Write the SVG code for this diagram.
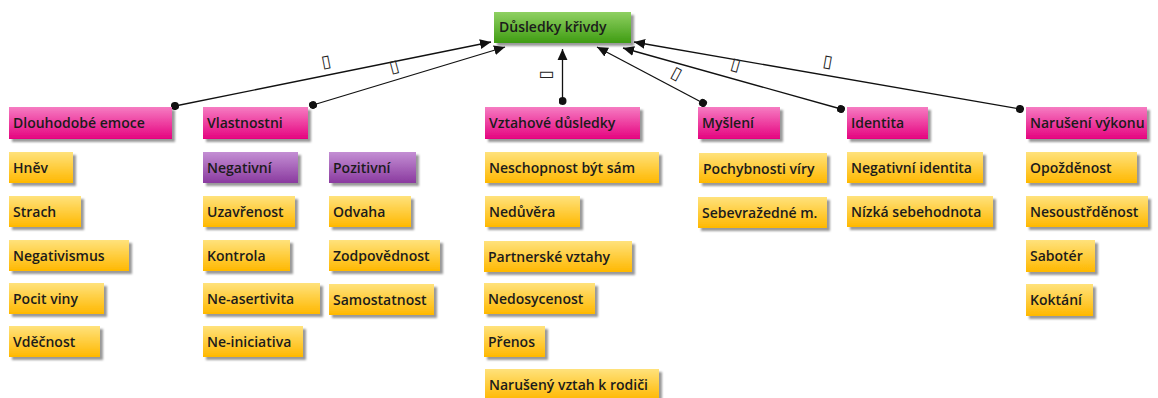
<svg xmlns="http://www.w3.org/2000/svg" width="1158" height="398" viewBox="0 0 1158 398">
  <defs>
    <linearGradient id="gGreen" x1="0" y1="0" x2="0" y2="1">
      <stop offset="0" stop-color="#8fd062"/>
      <stop offset="1" stop-color="#3f9c12"/>
    </linearGradient>
    <linearGradient id="gPink" x1="0" y1="0" x2="0" y2="1">
      <stop offset="0" stop-color="#f67cc2"/>
      <stop offset="1" stop-color="#e5037f"/>
    </linearGradient>
    <linearGradient id="gPurple" x1="0" y1="0" x2="0" y2="1">
      <stop offset="0" stop-color="#c48fd4"/>
      <stop offset="1" stop-color="#8a3a9f"/>
    </linearGradient>
    <linearGradient id="gYellow" x1="0" y1="0" x2="0" y2="1">
      <stop offset="0" stop-color="#ffe27c"/>
      <stop offset="1" stop-color="#ffb800"/>
    </linearGradient>
    <filter id="shadow" x="-10%" y="-20%" width="130%" height="160%">
      <feDropShadow dx="3" dy="3" stdDeviation="1.3" flood-color="#000" flood-opacity="0.4"/>
    </filter>
    <marker id="arrow" viewBox="0 0 10 10" refX="10" refY="5" markerWidth="11" markerHeight="11" markerUnits="userSpaceOnUse" orient="auto">
      <path d="M0,0.5 L10,5 L0,9.5 Z" fill="#111"/>
    </marker>
    <marker id="dot" viewBox="0 0 10 10" refX="5" refY="5" markerWidth="8" markerHeight="8" markerUnits="userSpaceOnUse" orient="auto">
      <circle cx="5" cy="5" r="5" fill="#111"/>
    </marker>
  </defs>
  <style>
    .box { filter: url(#shadow); }
    .green { fill: url(#gGreen); }
    .pink { fill: url(#gPink); }
    .purple { fill: url(#gPurple); }
    .yellow { fill: url(#gYellow); }
    text { font-family: "Open Sans", "Noto Sans", "DejaVu Sans", sans-serif; font-weight: 600; font-size: 14px; fill: #1b1b1b; }
    .edge { stroke: #111; stroke-width: 1.3; fill: none; marker-start: url(#dot); marker-end: url(#arrow); }
    .lbl { font-family: "DejaVu Sans", sans-serif; font-weight: 400; font-size: 17px; fill: #222; text-anchor: middle; }
  </style>

  <!-- connectors: each category points at the root topic -->
  <g id="connectors">
    <line class="edge" x1="175" y1="106" x2="491" y2="42"/>
    <line class="edge" x1="313" y1="105" x2="505" y2="47"/>
    <line class="edge" x1="562.5" y1="101" x2="562.5" y2="49"/>
    <line class="edge" x1="703" y1="103" x2="597" y2="47"/>
    <line class="edge" x1="841" y1="109" x2="623" y2="48"/>
    <line class="edge" x1="1020" y1="109" x2="634" y2="42"/>
    <text class="lbl" transform="translate(326,61) rotate(-11)" y="6">▯</text>
    <text class="lbl" transform="translate(394,66) rotate(-15)" y="6">▯</text>
    <text class="lbl" transform="translate(545,75) rotate(-90)" y="6">▯</text>
    <text class="lbl" transform="translate(677,73) rotate(28)" y="6">▯</text>
    <text class="lbl" transform="translate(736,64) rotate(16)" y="6">▯</text>
    <text class="lbl" transform="translate(828,61) rotate(10)" y="6">▯</text>
  </g>

  <!-- root -->
  <g id="root">
    <rect class="box green" x="494" y="12" width="137" height="31"/>
    <text x="499" y="32">Důsledky křivdy</text>
  </g>

  <!-- categories -->
  <g id="cat-emoce">
    <rect class="box pink" x="9" y="107" width="163" height="32"/>
    <text x="13" y="128">Dlouhodobé emoce</text>
  </g>
  <g id="cat-vlastnosti">
    <rect class="box pink" x="203" y="107" width="105" height="32"/>
    <text x="207" y="128">Vlastnostni</text>
  </g>
  <g id="cat-vztahy">
    <rect class="box pink" x="485" y="107" width="155" height="32"/>
    <text x="489" y="128">Vztahové důsledky</text>
  </g>
  <g id="cat-mysleni">
    <rect class="box pink" x="698" y="107" width="82" height="32"/>
    <text x="702" y="128">Myšlení</text>
  </g>
  <g id="cat-identita">
    <rect class="box pink" x="847" y="107" width="81" height="32"/>
    <text x="851" y="128">Identita</text>
  </g>
  <g id="cat-vykon">
    <rect class="box pink" x="1026" y="107" width="121" height="32"/>
    <text x="1030" y="128">Narušení výkonu</text>
  </g>

  <!-- Dlouhodobé emoce -->
  <g id="hnev"><rect class="box yellow" x="9" y="152" width="64" height="31"/><text x="13" y="173">Hněv</text></g>
  <g id="strach"><rect class="box yellow" x="9" y="196" width="72" height="31"/><text x="13" y="217">Strach</text></g>
  <g id="negativismus"><rect class="box yellow" x="9" y="240" width="120" height="31"/><text x="13" y="261">Negativismus</text></g>
  <g id="pocit-viny"><rect class="box yellow" x="9" y="283" width="95" height="31"/><text x="13" y="304">Pocit viny</text></g>
  <g id="vdecnost"><rect class="box yellow" x="9" y="326" width="91" height="31"/><text x="13" y="347">Vděčnost</text></g>

  <!-- Vlastnostni: negativní -->
  <g id="negativni"><rect class="box purple" x="203" y="152" width="95" height="31"/><text x="207" y="173">Negativní</text></g>
  <g id="uzavrenost"><rect class="box yellow" x="203" y="196" width="92" height="31"/><text x="207" y="217">Uzavřenost</text></g>
  <g id="kontrola"><rect class="box yellow" x="203" y="240" width="87" height="31"/><text x="207" y="261">Kontrola</text></g>
  <g id="ne-asertivita"><rect class="box yellow" x="203" y="283" width="117" height="31"/><text x="207" y="304">Ne-asertivita</text></g>
  <g id="ne-iniciativa"><rect class="box yellow" x="203" y="326" width="100" height="31"/><text x="207" y="347">Ne-iniciativa</text></g>

  <!-- Vlastnostni: pozitivní -->
  <g id="pozitivni"><rect class="box purple" x="329" y="152" width="87" height="31"/><text x="333" y="173">Pozitivní</text></g>
  <g id="odvaha"><rect class="box yellow" x="329" y="196" width="82" height="31"/><text x="333" y="217">Odvaha</text></g>
  <g id="zodpovednost"><rect class="box yellow" x="329" y="240" width="111" height="31"/><text x="333" y="261">Zodpovědnost</text></g>
  <g id="samostatnost"><rect class="box yellow" x="329" y="284" width="105" height="31"/><text x="333" y="305">Samostatnost</text></g>

  <!-- Vztahové důsledky -->
  <g id="neschopnost"><rect class="box yellow" x="485" y="152" width="174" height="31"/><text x="489" y="173">Neschopnost být sám</text></g>
  <g id="neduvera"><rect class="box yellow" x="485" y="196" width="95" height="31"/><text x="489" y="217">Nedůvěra</text></g>
  <g id="partnerske"><rect class="box yellow" x="484" y="241" width="148" height="31"/><text x="488" y="262">Partnerské vztahy</text></g>
  <g id="nedosycenost"><rect class="box yellow" x="484" y="283" width="111" height="31"/><text x="488" y="304">Nedosycenost</text></g>
  <g id="prenos"><rect class="box yellow" x="484" y="326" width="61" height="31"/><text x="488" y="347">Přenos</text></g>
  <g id="vztah-rodici"><rect class="box yellow" x="485" y="369" width="174" height="31"/><text x="489" y="390">Narušený vztah k rodiči</text></g>

  <!-- Myšlení -->
  <g id="pochybnosti"><rect class="box yellow" x="699" y="153" width="128" height="30"/><text x="703" y="174">Pochybnosti víry</text></g>
  <g id="sebevrazedne"><rect class="box yellow" x="698" y="197" width="129" height="31"/><text x="702" y="218">Sebevražedné m.</text></g>

  <!-- Identita -->
  <g id="neg-identita"><rect class="box yellow" x="847" y="152" width="136" height="31"/><text x="851" y="173">Negativní identita</text></g>
  <g id="sebehodnota"><rect class="box yellow" x="847" y="196" width="146" height="31"/><text x="851" y="217">Nízká sebehodnota</text></g>

  <!-- Narušení výkonu -->
  <g id="opozdenost"><rect class="box yellow" x="1026" y="152" width="111" height="31"/><text x="1030" y="173">Opožděnost</text></g>
  <g id="nesoustredenost"><rect class="box yellow" x="1026" y="196" width="122" height="31"/><text x="1030" y="217">Nesoustřděnost</text></g>
  <g id="saboter"><rect class="box yellow" x="1026" y="240" width="69" height="32"/><text x="1030" y="261">Sabotér</text></g>
  <g id="koktani"><rect class="box yellow" x="1026" y="284" width="67" height="32"/><text x="1030" y="305">Koktání</text></g>
</svg>
